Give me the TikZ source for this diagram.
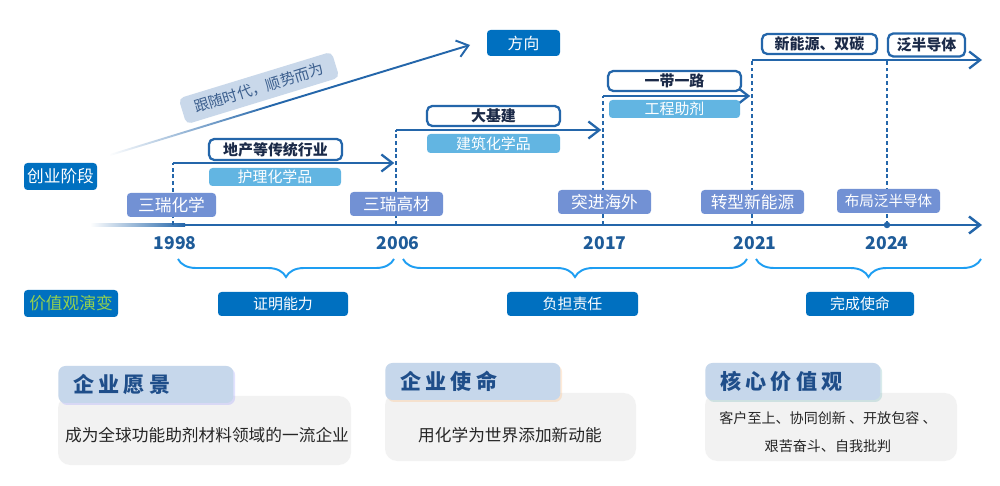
\documentclass[tikz,border=0pt]{standalone}
\usepackage{fontspec}
\setmainfont{Noto Sans CJK SC}
\newfontfamily\headfont[LetterSpace=20]{Noto Sans CJK SC}
\usetikzlibrary{arrows.meta, positioning, decorations.pathreplacing, shadows, fadings, calc}

\definecolor{mainblue}{HTML}{0070C0}
\definecolor{lineblue}{HTML}{2466AA}
\definecolor{yearblue}{HTML}{1F5C99}
\definecolor{lightblue}{HTML}{62B5E2}
\definecolor{stagepurple}{HTML}{7291D4}
\definecolor{bracecolor}{HTML}{1E9EF2}
\definecolor{headfill}{HTML}{C6D7EB}
\definecolor{headtext}{HTML}{1F4E8A}
\definecolor{bodyfill}{HTML}{F2F2F2}
\definecolor{slopefill}{HTML}{C9D8EA}
\definecolor{slopetext}{HTML}{3C5F8E}
\definecolor{valuegreen}{HTML}{92D050}
\definecolor{darktext}{HTML}{1B2A48}

\newlength\pxu
\setlength\pxu{0.2mm}

\tikzfading[name=fadein, left color=transparent!100, right color=transparent!0]

\tikzset{
	mainbox/.style={
			shape=rectangle,
			rounded corners=2pt,
			fill=mainblue,
			text=white,
			inner sep=0pt,
			font=\fontsize{8.5}{10}\selectfont
		},
	stagebox/.style={
			shape=rectangle,
			rounded corners=2pt,
			fill=stagepurple,
			text=white,
			inner sep=0pt,
			minimum height=24\pxu,
			font=\fontsize{9.5}{11}\selectfont
		},
	sectorbox/.style={
			shape=rectangle,
			rounded corners=3pt,
			draw=lineblue,
			line width=1.3pt,
			fill=white,
			text=darktext,
			inner sep=0pt,
			minimum height=20\pxu,
			font=\fontsize{8.5}{10}\selectfont\bfseries
		},
	productbox/.style={
			shape=rectangle,
			rounded corners=2pt,
			fill=lightblue,
			text=white,
			inner sep=0pt,
			minimum height=18\pxu,
			font=\fontsize{8.5}{10}\selectfont
		}
}
\tikzset{
	yearlabel/.style={text=yearblue, font=\fontsize{10}{12}\selectfont\bfseries},
	steparrow/.style={lineblue, line width=1.3pt, -{Straight Barb[length=2.2mm, width=3.4mm]}},
	dashline/.style={lineblue, line width=1.1pt, dash pattern=on 2.2pt off 1.6pt},
	bracebar/.style={bracecolor, line width=1.1pt, decorate, decoration={brace, mirror, amplitude=3.6mm}}
}
\tikzset{
	headbox/.style={
			shape=rectangle,
			rounded corners=4pt,
			fill=headfill,
			text=headtext,
			minimum height=37\pxu,
			text width=145\pxu,
			inner xsep=15\pxu,
			inner ysep=0pt,
			align=left,
			font=\headfont\fontsize{12}{14}\selectfont\bfseries
		},
	bodybox/.style={shape=rectangle, rounded corners=7pt, fill=bodyfill, inner sep=0pt},
	bodytext/.style={text=black!85, align=center, font=\fontsize{9.5}{16}\selectfont}
}

\begin{document}
\begin{tikzpicture}[x=0.2mm, y=-0.2mm]
	\useasboundingbox[fill=white] (0,0) rectangle (1000,486);

	% time axis
	\coordinate (a0) at (90,225);
	\coordinate (a1) at (185,225);
	\coordinate (aend) at (982,225);
	\shade[left color=white, right color=lineblue] ($(a0)+(0,-1.3)$) rectangle ($(a1)+(0,1.3)$);
	\draw[lineblue, line width=1.4pt, -{Straight Barb[length=2.2mm, width=3.4mm]}] (a1) -- (aend);

	\foreach \name/\xx/\top in {1998/173/163, 2006/396/130, 2017/603/96, 2021/752/60, 2024/887/60} {
		\coordinate (b\name) at (\xx,225);
		\coordinate (c\name) at (\xx,\top);
		\draw[dashline] (b\name) -- (c\name);
	}
	\node[circle, fill=lineblue, inner sep=0pt, minimum size=1.3mm] (dot2024) at (b2024) {};

	\draw[steparrow, shorten >=1pt] (c1998) -- (b2006 |- c1998);
	\draw[steparrow, shorten >=1pt] (c2006) -- (b2017 |- c2006);
	\draw[steparrow, shorten >=1pt] (c2017) -- (b2021 |- c2017);
	\draw[steparrow] (c2021) -- (aend |- c2021);

	% trend arrow
	\coordinate (d0) at (110,155);
	\coordinate (d1) at (270,106);
	\coordinate (dend) at (470,45);
	\draw[lineblue, line width=1.1pt, path fading=fadein] (d0) -- (d1);
	\draw[lineblue, line width=1.1pt, -{Straight Barb[length=2.2mm, width=3.4mm]}] (d1) -- (dend);
	\node[rotate=17, fill=slopefill, rounded corners=3pt, text=slopetext, inner sep=0pt,
		minimum width=160\pxu, minimum height=27\pxu, font=\fontsize{8.5}{10}\selectfont] (trend) at (259,88) {跟随时代，顺势而为};
	\node[mainbox, minimum width=73\pxu, minimum height=26\pxu, font=\fontsize{9}{11}\selectfont] (goal) at (523.5,43) {方向};

	\node[mainbox, minimum width=73\pxu, minimum height=27\pxu, font=\fontsize{9.5}{11}\selectfont] (stagelabel) at (60.5,176.5) {创业阶段};
	\node[mainbox, minimum width=94\pxu, minimum height=27\pxu, text=valuegreen, font=\fontsize{9.5}{11}\selectfont] (valuelabel) at (71,303.5) {价值观演变};

	% sectors
	\node[sectorbox, minimum width=133\pxu, minimum height=21\pxu] (sec1) at (275.5,149.5) {地产等传统行业};
	\node[sectorbox, minimum width=133\pxu] (sec2) at (493.5,116) {大基建};
	\node[sectorbox, minimum width=133\pxu] (sec3) at (674.5,81) {一带一路};
	\node[sectorbox, minimum width=115\pxu] (sec4) at (819.5,44) {新能源、双碳};
	\node[sectorbox, minimum width=77\pxu, minimum height=23\pxu] (sec5) at (926.5,45) {泛半导体};

	\node[productbox, minimum width=132\pxu] (prod1) at (275,177) {护理化学品};
	\node[productbox, minimum width=133\pxu, minimum height=19\pxu] (prod2) at (493.5,143.5) {建筑化学品};
	\node[productbox, minimum width=131\pxu] (prod3) at (674.5,109) {工程助剂};

	% stages
	\node[stagebox, minimum width=89\pxu] (s1998) at (171.5,205) {三瑞化学};
	\node[stagebox, minimum width=93\pxu] (s2006) at (396.5,204) {三瑞高材};
	\node[stagebox, minimum width=93\pxu] (s2017) at (604.5,202) {突进海外};
	\node[stagebox, minimum width=103\pxu] (s2021) at (752.5,202) {转型新能源};
	\node[stagebox, minimum width=103\pxu, font=\fontsize{8.3}{10}\selectfont] (s2024) at (888.5,201) {布局泛半导体};

	\foreach \name/\xx in {1998/175, 2006/398, 2017/605, 2021/755, 2024/887}
		\node[yearlabel] (y\name) at (\xx,243) {\name};

	% values
	\coordinate (r1l) at (178,259);
	\coordinate (r1r) at (394,259);
	\coordinate (r2l) at (403,259);
	\coordinate (r2r) at (747,259);
	\coordinate (r3l) at (756,259);
	\coordinate (r3r) at (981,259);
	\draw[bracebar] (r1l) -- (r1r);
	\draw[bracebar] (r2l) -- (r2r);
	\draw[bracebar] (r3l) -- (r3r);

	\node[mainbox, minimum width=130\pxu, minimum height=24\pxu] (v1) at (283,304) {证明能力};
	\node[mainbox, minimum width=131\pxu, minimum height=24\pxu] (v2) at (572.5,304) {负担责任};
	\node[mainbox, minimum width=108\pxu, minimum height=24\pxu] (v3) at (860,304) {完成使命};

	% cards
	\node[bodybox, minimum width=293\pxu, minimum height=69\pxu] (vision) at (204.5,430.5) {};
	\node[bodybox, minimum width=251\pxu, minimum height=68\pxu] (mission) at (510.5,427) {};
	\node[bodybox, minimum width=252\pxu, minimum height=68\pxu] (values) at (831,427) {};

	\node[headbox, anchor=west, drop shadow={shadow xshift=0.35mm, shadow yshift=-0.4mm, fill=blue!45, opacity=0.25}] (visionhead) at (58,384.5) {企业愿景};
	\node[headbox, anchor=west, drop shadow={shadow xshift=0.35mm, shadow yshift=-0.4mm, fill=orange!60, opacity=0.25}] (missionhead) at (385,381.5) {企业使命};
	\node[headbox, anchor=west, drop shadow={shadow xshift=0.35mm, shadow yshift=-0.4mm, fill=teal!60, opacity=0.25}] (valueshead) at (705,381.5) {核心价值观};

	\node[bodytext] (visiontext) at (207,435) {成为全球功能助剂材料领域的一流企业};
	\node[bodytext] (missiontext) at (510,435) {用化学为世界添加新动能};
	\node[bodytext, font=\fontsize{8}{15.9}\selectfont] (valuestext) at (828,432) {客户至上、协同创新 、开放包容 、\\艰苦奋斗、自我批判};
\end{tikzpicture}
\end{document}
